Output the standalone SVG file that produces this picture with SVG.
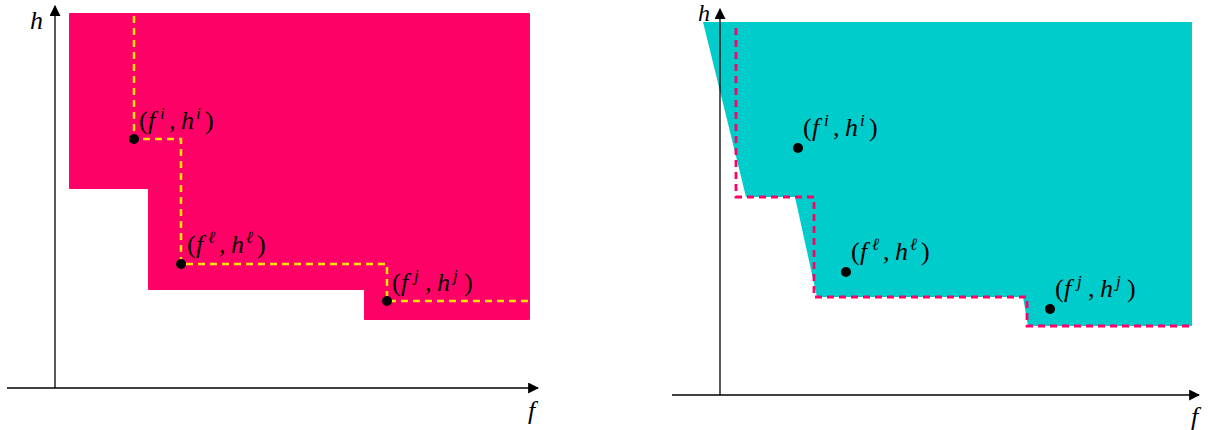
<svg xmlns="http://www.w3.org/2000/svg" width="1210" height="430" viewBox="0 0 1210 430">
<style>
.axis{stroke:#000;stroke-width:1.3;fill:none}
.dot{fill:#000}
.ydash{fill:none;stroke:#FFE600;stroke-width:2.5;stroke-dasharray:7 5}
.pdash{fill:none;stroke:#FF0066;stroke-width:2.8;stroke-dasharray:7 5}
</style>
<defs>
<marker id="arr" viewBox="0 0 10 10" refX="9" refY="5" markerWidth="11" markerHeight="11" markerUnits="userSpaceOnUse" orient="auto">
<path d="M0,0 L10,5 L0,10 z" fill="#000"/>
</marker>
</defs>

<g id="left-panel">
<g id="region-left">
<path d="M70,14 L529,14 L529,319 L365,319 L365,289 L149,289 L149,188 L70,188 Z" fill="#FF0066" stroke="#FF0066" stroke-width="2" stroke-linejoin="round"/>
</g>
<g id="connectors-left">
<line class="axis" x1="7" y1="388" x2="538" y2="388" marker-end="url(#arr)"/>
<line class="axis" x1="55" y1="388" x2="55" y2="6" marker-end="url(#arr)"/>
<path class="ydash" d="M134,16 L134,139 L181,139 L181,264 L387,264 L387,301 L528,301"/>
</g>
<g font-family="Liberation Serif, DejaVu Serif, serif" font-size="26" fill="#000">
<text font-style="italic" x="30" y="29">h</text>
<text font-style="italic" x="528" y="419">f</text>
</g>
<g id="pt-i-left" font-family="Liberation Serif, DejaVu Serif, serif" font-size="26" fill="#000">
<circle class="dot" cx="134" cy="139" r="5"/>
<text transform="translate(139,129)"><tspan x="0">(</tspan><tspan font-style="italic" x="9">f</tspan><tspan font-size="17" font-style="italic" x="21" dy="-10">i</tspan><tspan x="30" dy="10">,</tspan><tspan font-style="italic" x="42">h</tspan><tspan font-size="17" font-style="italic" x="57" dy="-10">i</tspan><tspan x="66" dy="10">)</tspan></text>
</g>
<g id="pt-l-left" font-family="Liberation Serif, DejaVu Serif, serif" font-size="26" fill="#000">
<circle class="dot" cx="181" cy="264" r="5"/>
<text transform="translate(187,253)"><tspan x="0">(</tspan><tspan font-style="italic" x="9">f</tspan><tspan font-size="17" font-style="italic" x="21" dy="-10">ℓ</tspan><tspan x="32" dy="10">,</tspan><tspan font-style="italic" x="44">h</tspan><tspan font-size="17" font-style="italic" x="59" dy="-10">ℓ</tspan><tspan x="70" dy="10">)</tspan></text>
</g>
<g id="pt-j-left" font-family="Liberation Serif, DejaVu Serif, serif" font-size="26" fill="#000">
<circle class="dot" cx="387" cy="301" r="5"/>
<text transform="translate(392,291)"><tspan x="0">(</tspan><tspan font-style="italic" x="9">f</tspan><tspan font-size="17" font-style="italic" x="22" dy="-10">j</tspan><tspan x="33" dy="10">,</tspan><tspan font-style="italic" x="45">h</tspan><tspan font-size="17" font-style="italic" x="61" dy="-10">j</tspan><tspan x="72" dy="10">)</tspan></text>
</g>
</g>

<g id="right-panel">
<g id="region-right">
<path d="M703,22 L1192,22 L1192,326 L1028,326 L1023,297 L817,297 L795,197 L746,197 Z" fill="#00CCCC"/>
</g>
<g id="connectors-right">
<line class="axis" x1="672" y1="395" x2="1199" y2="395" marker-end="url(#arr)"/>
<line class="axis" x1="720" y1="395" x2="720" y2="9" marker-end="url(#arr)"/>
<path class="pdash" d="M736,28 L736,197 L814,197 L814,297 L1027,297 L1027,326 L1192,326"/>
</g>
<g font-family="Liberation Serif, DejaVu Serif, serif" font-size="24" fill="#000">
<text font-style="italic" x="698" y="21">h</text>
<text font-style="italic" x="1191" y="425" font-size="26">f</text>
</g>
<g id="pt-i-right" font-family="Liberation Serif, DejaVu Serif, serif" font-size="26" fill="#000">
<circle class="dot" cx="798" cy="148" r="5"/>
<text transform="translate(803,136)"><tspan x="0">(</tspan><tspan font-style="italic" x="9">f</tspan><tspan font-size="17" font-style="italic" x="21" dy="-10">i</tspan><tspan x="30" dy="10">,</tspan><tspan font-style="italic" x="42">h</tspan><tspan font-size="17" font-style="italic" x="57" dy="-10">i</tspan><tspan x="66" dy="10">)</tspan></text>
</g>
<g id="pt-l-right" font-family="Liberation Serif, DejaVu Serif, serif" font-size="26" fill="#000">
<circle class="dot" cx="846" cy="272" r="5"/>
<text transform="translate(851,260)"><tspan x="0">(</tspan><tspan font-style="italic" x="9">f</tspan><tspan font-size="17" font-style="italic" x="21" dy="-10">ℓ</tspan><tspan x="32" dy="10">,</tspan><tspan font-style="italic" x="44">h</tspan><tspan font-size="17" font-style="italic" x="59" dy="-10">ℓ</tspan><tspan x="70" dy="10">)</tspan></text>
</g>
<g id="pt-j-right" font-family="Liberation Serif, DejaVu Serif, serif" font-size="26" fill="#000">
<circle class="dot" cx="1050" cy="309" r="5"/>
<text transform="translate(1055,297)"><tspan x="0">(</tspan><tspan font-style="italic" x="9">f</tspan><tspan font-size="17" font-style="italic" x="22" dy="-10">j</tspan><tspan x="33" dy="10">,</tspan><tspan font-style="italic" x="45">h</tspan><tspan font-size="17" font-style="italic" x="61" dy="-10">j</tspan><tspan x="72" dy="10">)</tspan></text>
</g>
</g>
</svg>
